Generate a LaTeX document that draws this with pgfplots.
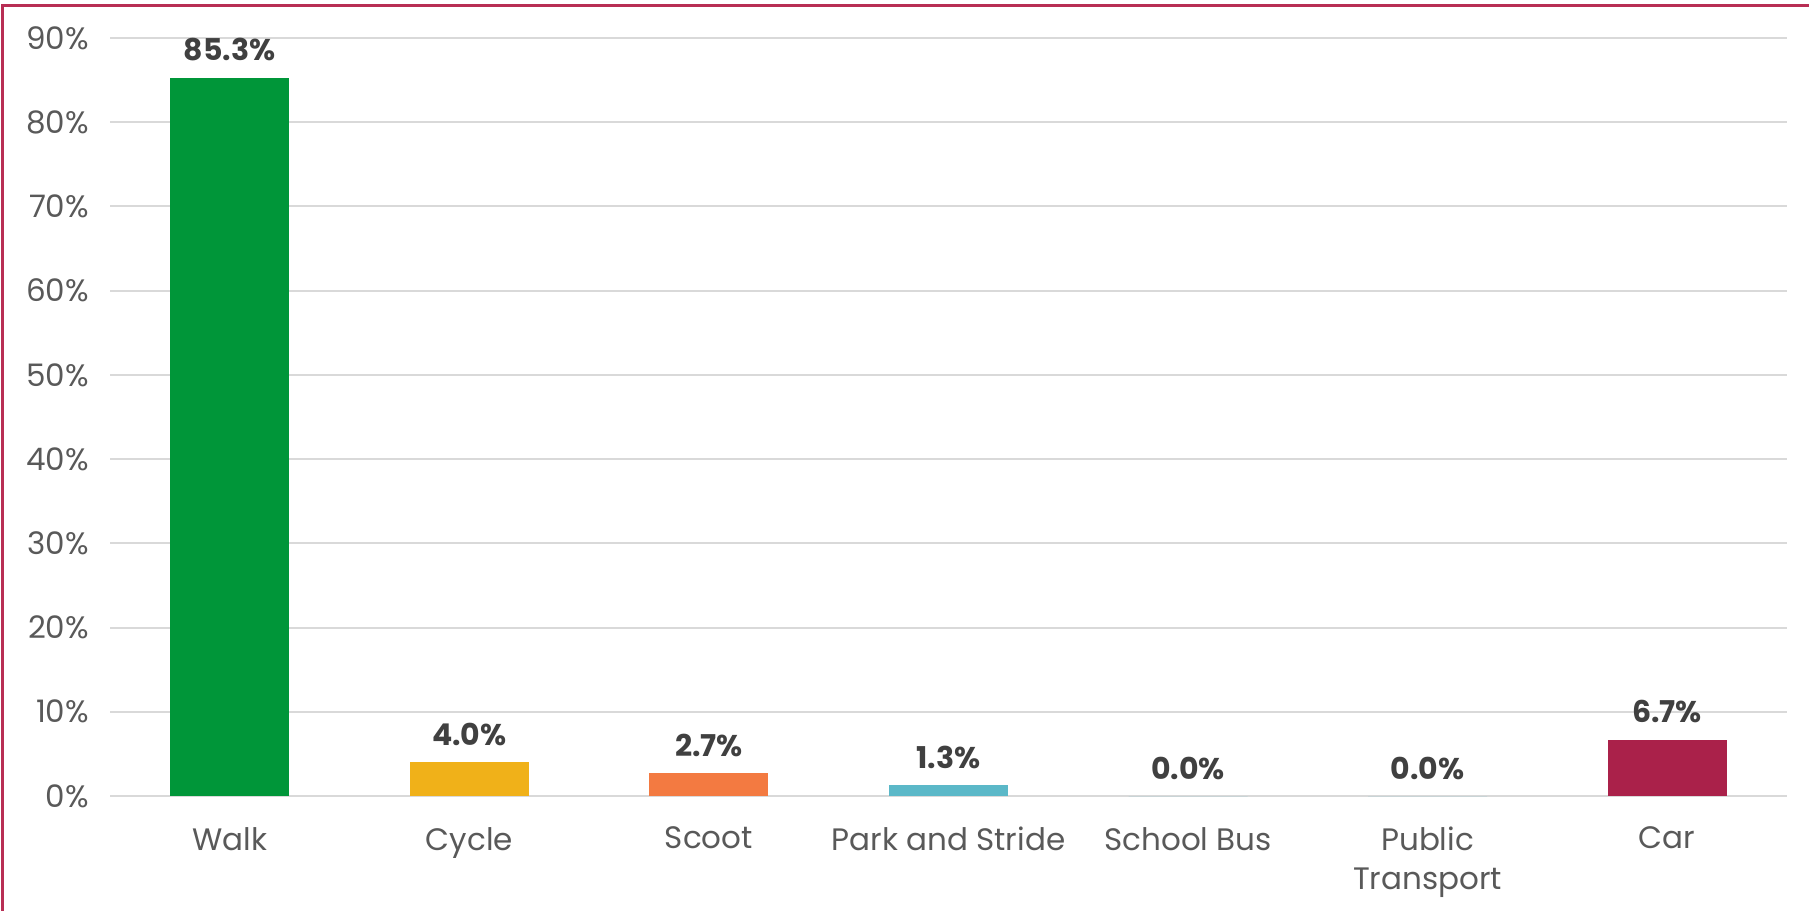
\documentclass[border=0pt]{standalone}
\usepackage{pgfplots}
\pgfplotsset{compat=1.18}
\usepackage{fontspec}
\setmainfont{Poppins}
\definecolor{cwalk}{RGB}{0,150,57}
\definecolor{ccycle}{RGB}{240,177,25}
\definecolor{cscoot}{RGB}{243,122,65}
\definecolor{cpark}{RGB}{91,184,200}
\definecolor{ccar}{RGB}{170,33,74}
\definecolor{cborder}{RGB}{184,46,84}
\definecolor{ctext}{RGB}{89,89,89}
\definecolor{clabel}{RGB}{64,64,64}
\definecolor{cgrid}{RGB}{217,217,217}
\begin{document}
\begin{tikzpicture}[x=1pt,y=1pt]
\useasboundingbox (0,0) rectangle (904.5,455);
\draw[cborder, line width=1.5pt] (1.25,-5) -- (1.25,452.2) -- (910,452.2);
\begin{axis}[
  at={(55pt,57pt)}, anchor=south west,
  scale only axis, width=838.5pt, height=379pt,
  xmin=-0.5, xmax=6.5, ymin=0, ymax=90,
  ybar, bar width=59.5pt,
  axis line style={draw=none},
  major tick length=0pt,
  ytick={0,10,...,90},
  ymajorgrids, grid style={cgrid, line width=1pt},
  xtick={0,1,2,3,4,5,6},
  xticklabels={Walk,Cycle,Scoot,Park and Stride,School Bus,Public\\Transport,Car},
  /pgf/number format/assume math mode=true,
  yticklabel={\pgfmathprintnumber{\tick}\%},
  yticklabel style={font=\fontsize{15.5}{18}\selectfont, text=ctext, xshift=-7pt},
  xticklabel style={font=\fontsize{15.5}{19.5}\selectfont, text=ctext, align=center, yshift=-12pt},
  nodes near coords={\pgfmathprintnumber[fixed,fixed zerofill,precision=1]{\pgfplotspointmeta}\%},
  nodes near coords style={font=\fontsize{15}{18}\selectfont\bfseries, text=clabel, anchor=south, inner sep=0pt, yshift=8pt},
  clip=false,
]
\addplot[fill=cwalk, draw=none, bar shift=0pt] coordinates {(0,85.3)};
\addplot[fill=ccycle, draw=none, bar shift=0pt] coordinates {(1,4.0)};
\addplot[fill=cscoot, draw=none, bar shift=0pt] coordinates {(2,2.7)};
\addplot[fill=cpark, draw=none, bar shift=0pt] coordinates {(3,1.3)};
\addplot[fill=cpark, draw=none, bar shift=0pt] coordinates {(4,0.0)};
\addplot[fill=cpark, draw=none, bar shift=0pt] coordinates {(5,0.0)};
\addplot[fill=ccar, draw=none, bar shift=0pt] coordinates {(6,6.7)};
\end{axis}
\end{tikzpicture}
\end{document}
